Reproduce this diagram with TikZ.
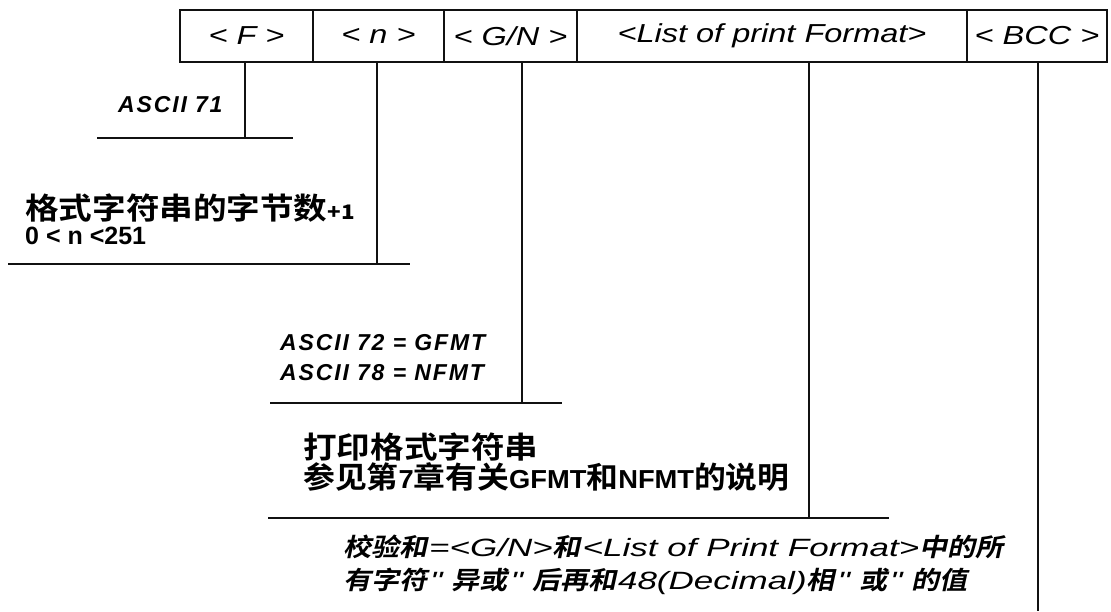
\documentclass[tikz,border=0pt]{standalone}
\usepackage{fontspec}
\usepackage{xcolor}
\usetikzlibrary{positioning,calc}
\setmainfont{Liberation Sans}
\newfontfamily\fieldfont[FakeStretch=1.25]{Liberation Sans}
\newfontfamily\asciifont[LetterSpace=8]{Liberation Sans}
\newfontfamily\refbold[FakeStretch=1.05]{Liberation Sans}
\newfontfamily\latinslant[FakeStretch=1.4]{Liberation Sans}
\newfontfamily\cjkbold[FakeStretch=1.12]{Noto Sans CJK SC Bold}
\newfontfamily\cjkplain[FakeStretch=1.06]{Noto Sans CJK SC Bold}
\newfontfamily\cjkslant[FakeStretch=1.12,FakeSlant=0.22]{Noto Sans CJK SC Bold}
\definecolor{ink}{HTML}{111111}
\newcommand{\slcjk}[1]{{\cjkslant #1}}
\newcommand{\sllat}[1]{\hspace{2pt}{\latinslant\itshape #1}}
\newcommand{\slquote}{\hspace{3pt}{\latinslant\itshape "}\hspace{9pt}}
\newcommand{\reflat}[1]{{\refbold\bfseries\fontsize{26}{28}\selectfont #1}}
\tikzset{
  fieldcell/.style={
    draw=ink,
    line width=2.6pt,
    outer sep=0pt,
    inner sep=0pt,
    minimum height=52pt,
    font=\fieldfont\itshape\fontsize{26}{28}\selectfont
  },
  leader/.style={draw=ink, line width=1.8pt},
  asciitext/.style={anchor=west, inner sep=0pt, font=\asciifont\bfseries\itshape\fontsize{23}{25}\selectfont},
  cjktext/.style={anchor=west, inner sep=0pt, font=\cjkbold\fontsize{30}{32}\selectfont},
  rangetext/.style={anchor=west, inner sep=0pt, font=\bfseries\fontsize{25}{27}\selectfont},
  notetext/.style={anchor=west, inner sep=0pt, font=\fontsize{25}{27}\selectfont}
}
\begin{document}
\begin{tikzpicture}[x=1pt, y=-1pt]
\useasboundingbox (0,0) rectangle (1111,611);

\node[fieldcell, minimum width=133pt] (f) at (246.5,36) {< F >};
\node[fieldcell, minimum width=131pt, right=0pt of f] (n) {< n >};
\node[fieldcell, minimum width=133pt, right=0pt of n] (gn) {< G/N >};
\node[fieldcell, minimum width=390pt, right=0pt of gn] (list) {<List of print Format>};
\node[fieldcell, minimum width=140pt, right=0pt of list] (bcc) {< BCC >};

\coordinate (fFoot) at (245,138);
\coordinate (fRuleL) at (97,138);
\coordinate (fRuleR) at (293,138);
\coordinate (nFoot) at (377,264);
\coordinate (nRuleL) at (8,264);
\coordinate (nRuleR) at (410,264);
\coordinate (gnFoot) at (522,403);
\coordinate (gnRuleL) at (270,403);
\coordinate (gnRuleR) at (562,403);
\coordinate (listFoot) at (809,518);
\coordinate (listRuleL) at (268,518);
\coordinate (listRuleR) at (889,518);
\coordinate (bccFoot) at (1038,611);

\draw[leader] (f.south -| fFoot) -- (fFoot);
\draw[leader] (fRuleL) -- (fRuleR);
\draw[leader] (n.south -| nFoot) -- (nFoot);
\draw[leader] (nRuleL) -- (nRuleR);
\draw[leader] (gn.south -| gnFoot) -- (gnFoot);
\draw[leader] (gnRuleL) -- (gnRuleR);
\draw[leader] (list.south -| listFoot) -- (listFoot);
\draw[leader] (listRuleL) -- (listRuleR);
\draw[leader] (bcc.south -| bccFoot) -- (bccFoot);

\node[asciitext] (fCode) at (118,105) {ASCII 71};
\node[cjktext] (nText) at (25,208) {格式字符串的字节数{\bfseries\fontsize{20}{22}\selectfont +1}};
\node[rangetext] (nRange) at (25,236) {0 < n <251};
\node[asciitext] (gCode) at (280,343) {ASCII 72 = GFMT};
\node[asciitext] (nCode) at (280,373) {ASCII 78 = NFMT};
\node[cjktext] (listTitle) at (303,447) {打印格式字符串};
\node[cjktext] (listRef) at (303,477) {\cjkplain 参见第\reflat{7}章有关\reflat{GFMT}和\reflat{NFMT}的说明};
\node[notetext] (bccLineA) at (343,547) {\slcjk{校验和}\sllat{=<G/N>}\slcjk{和}\sllat{<List of Print Format>}\slcjk{中的所}};
\node[notetext] (bccLineB) at (343,581) {\slcjk{有字符}\slquote\slcjk{异或}\slquote\slcjk{后再和}\sllat{48(Decimal)}\slcjk{相}\slquote\slcjk{或}\slquote\slcjk{的值}};
\end{tikzpicture}
\end{document}
